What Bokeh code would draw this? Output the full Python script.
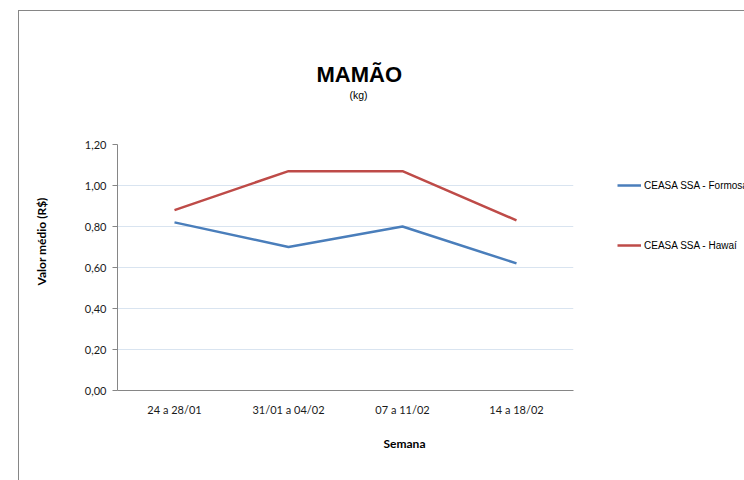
from bokeh.plotting import figure
from bokeh.layouts import row
from bokeh.models import (FactorRange, Range1d, Legend, LegendItem, Title,
                          CustomJSTickFormatter, ColumnDataSource)
from bokeh.embed import file_html
from bokeh.resources import INLINE

weeks = ["24 a 28/01", "31/01 a 04/02", "07 a 11/02", "14 a 18/02"]
formosa = [0.82, 0.70, 0.80, 0.62]
hawai = [0.88, 1.07, 1.07, 0.83]
series_names = ["CEASA SSA - Formosa", "CEASA SSA - Hawaí"]
series_colors = ["#4a7ebb", "#be4b48"]
y_ticks = [0.0, 0.2, 0.4, 0.6, 0.8, 1.0, 1.2]

src = ColumnDataSource(dict(week=weeks, formosa=formosa, hawai=hawai))

# ---------------- main chart ----------------
p = figure(x_range=FactorRange(*weeks), y_range=Range1d(0, 1.2),
           width=555, height=469, output_backend="svg", toolbar_location=None,
           min_border_left=98, min_border_right=1, min_border_top=133,
           min_border_bottom=90)
p.outline_line_color = None
p.background_fill_color = "white"
p.border_fill_color = "white"

p.line("week", "formosa", source=src, line_color=series_colors[0], line_width=2.5)
p.line("week", "hawai", source=src, line_color=series_colors[1], line_width=2.5)

tick_font = "Lato"
p.xgrid.grid_line_color = None
p.ygrid.grid_line_color = "#d9e4f0"
p.ygrid.grid_line_width = 1

p.yaxis.ticker = y_ticks
p.yaxis.formatter = CustomJSTickFormatter(code="return tick.toFixed(2).replace('.', ',');")
p.yaxis.axis_line_color = "#868686"
p.yaxis.major_tick_line_color = "#868686"
p.yaxis.major_tick_out = 5
p.yaxis.major_tick_in = 0
p.yaxis.minor_tick_line_color = None
p.yaxis.minor_tick_out = 0
p.yaxis.major_label_text_font = tick_font
p.yaxis.major_label_text_font_size = "11px"
p.yaxis.major_label_text_color = "#1a1a1a"
p.yaxis.major_label_standoff = 6

p.xaxis.axis_line_color = "#868686"
p.xaxis.major_tick_line_color = None
p.xaxis.major_tick_out = 0
p.xaxis.major_tick_in = 0
p.xaxis.minor_tick_line_color = None
p.xaxis.minor_tick_out = 0
p.xaxis.major_label_text_font = tick_font
p.xaxis.major_label_text_font_size = "11px"
p.xaxis.major_label_text_color = "#1a1a1a"
p.xaxis.major_label_standoff = 12


def spacer(size):
    return Title(text=" ", text_font_size="10px", standoff=size)


# above: spacer closest to the frame, then subtitle, then title
p.add_layout(spacer(31), "above")
p.add_layout(Title(text="(kg)", align="left", offset=232, standoff=0,
                   text_font="Liberation Sans", text_font_size="10.5px",
                   text_font_style="normal", text_color="black"), "above")
p.add_layout(Title(text="MAMÃO", align="left", offset=199, standoff=0,
                   text_font="Liberation Sans", text_font_size="22px",
                   text_font_style="bold", text_color="black"), "above")

# left: axis, spacer, axis title
p.add_layout(spacer(20), "left")
p.add_layout(Title(text="Valor médio (R$)", align="left", offset=105, standoff=0,
                   text_font=tick_font, text_font_size="12px",
                   text_font_style="bold", text_color="black"), "left")

# below: axis, axis title
p.add_layout(Title(text="Semana", align="left", offset=266, standoff=30,
                   text_font=tick_font, text_font_size="12px",
                   text_font_style="bold", text_color="black"), "below")

# ---------------- legend panel ----------------
lf = figure(x_range=FactorRange(*weeks), y_range=Range1d(5, 6),
            width=170, height=469, output_backend="svg", toolbar_location=None,
            min_border=0, min_border_left=0, min_border_right=0,
            min_border_top=0, min_border_bottom=0)
lf.axis.visible = False
lf.grid.visible = False
lf.outline_line_color = None
lf.background_fill_color = "white"
lf.border_fill_color = "white"
# legend glyphs only (data lies outside this panel's visible y range)
l1 = lf.line("week", "formosa", source=src, line_color=series_colors[0], line_width=2.5)
l2 = lf.line("week", "hawai", source=src, line_color=series_colors[1], line_width=2.5)

legend = Legend(items=[LegendItem(label=series_names[0], renderers=[l1]),
                       LegendItem(label=series_names[1], renderers=[l2])],
                location=(43, 139), orientation="vertical",
                glyph_width=24, glyph_height=12, label_height=12, spacing=48,
                label_standoff=3, padding=0, margin=0,
                label_text_font="Liberation Sans", label_text_font_size="10px",
                label_text_color="black",
                background_fill_alpha=0, border_line_color=None)
lf.add_layout(legend, "center")

layout = row(p, lf, spacing=0)
layout.margin = (10, 0, 0, 18)
layout.styles = {"border-top": "1px solid #868686", "border-left": "1px solid #868686"}

open("out.html", "w").write(file_html(layout, INLINE))
